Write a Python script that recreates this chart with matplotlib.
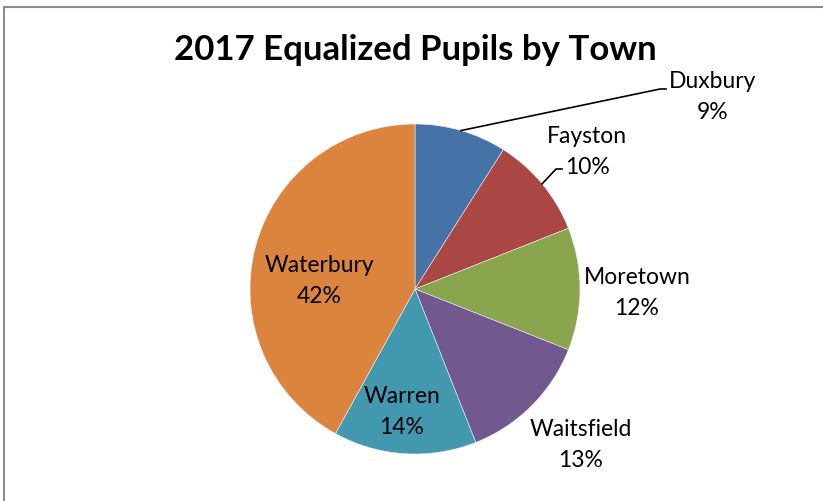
import numpy as np
import matplotlib
matplotlib.use('Agg')
import matplotlib.pyplot as plt
from matplotlib.patches import Rectangle

# data
towns = ['Duxbury', 'Fayston', 'Moretown', 'Waitsfield', 'Warren', 'Waterbury']
shares = [9, 10, 12, 13, 14, 42]
colors = ['#4572A7', '#AA4643', '#89A54E', '#71588F', '#4198AF', '#DB843D']
# label centres (pixels from top-left of the image)
label_xy = [(713, 97), (587, 152), (637, 293), (581, 445), (402, 412), (319, 281)]

W, H = 823, 502
plt.rcParams['font.family'] = ['Lato', 'DejaVu Sans']

fig = plt.figure(figsize=(W / 100, H / 100), dpi=100)
ax = fig.add_axes([0, 0, 1, 1])
ax.set_xlim(0, W)
ax.set_ylim(0, H)
ax.set_aspect('equal')
ax.axis('off')

# chart border (runs off the right and bottom of the picture)
ax.add_patch(Rectangle((3.5, -20), W + 40, H - 7.5 + 20, fill=False,
                       edgecolor='#8c8c8c', lw=1.5))

cx, cy, r = 415, H - 290, 165
wedges, _ = ax.pie(shares, colors=colors, startangle=90, counterclock=False,
                   center=(cx, cy), radius=r,
                   wedgeprops=dict(edgecolor='#f0f0f0', linewidth=0.4))
ax.set_xlim(0, W)
ax.set_ylim(0, H)

for i, (name, s) in enumerate(zip(towns, shares)):
    x, y = label_xy[i]
    ax.text(x, H - y, f'{name}\n{s}%', ha='center', va='center',
            fontsize=16.5, linespacing=1.6, color='black')

# leader lines for the two outside labels
for i, end in [(0, (660, 90)), (1, (556, 170))]:
    w = wedges[i]
    mid = np.deg2rad((w.theta1 + w.theta2) / 2)
    px, py = cx + r * np.cos(mid), cy + r * np.sin(mid)
    ex, ey = end
    ax.plot([px, ex, ex + 6], [py, H - ey, H - ey], color='black', lw=1.2)

ax.text(415, H - 50, '2017 Equalized Pupils by Town', ha='center', va='center',
        fontsize=25, fontweight='bold')

fig.savefig('out.png', dpi=100)
